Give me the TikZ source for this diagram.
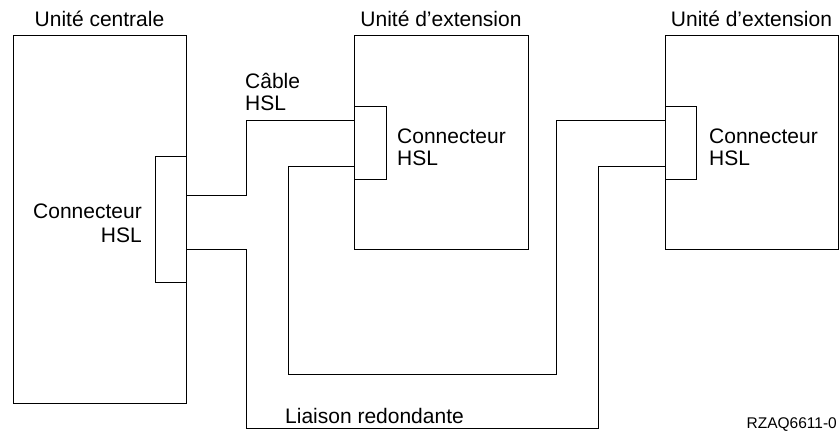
\documentclass[tikz,border=0pt]{standalone}
\usepackage{fontspec}
\setmainfont{Liberation Sans}
\usetikzlibrary{positioning}

\tikzset{
  unit/.style={draw, line width=1pt, inner sep=0pt},
  hsl/.style={draw, fill=white, line width=1pt, inner sep=0pt},
  wire/.style={line width=0.9pt},
  lbl/.style={inner sep=0pt, font=\fontsize{21}{22}\selectfont},
  code/.style={inner sep=0pt, font=\fontsize{15.5}{18}\selectfont}
}

\begin{document}
\begin{tikzpicture}[x=1pt,y=-1pt]
  \useasboundingbox (0,0) rectangle (839,432);

  % units
  \node[unit, minimum width=173pt, minimum height=368pt] (cu) at (99.5,219) {};
  \node[unit, minimum width=174pt, minimum height=214pt] (ext1) at (441,142) {};
  \node[unit, minimum width=173pt, minimum height=214pt] (ext2) at (751.5,142) {};

  % HSL connectors
  \node[hsl, minimum width=31pt, minimum height=126pt] (hslc) at (170.5,219) {};
  \node[hsl, minimum width=32pt, minimum height=73pt] (hsl1) at (370,143) {};
  \node[hsl, minimum width=31pt, minimum height=73pt] (hsl2) at (680.5,143) {};

  % unit titles
  \node[lbl, anchor=base] (tcu) at ([yshift=8pt]cu.north) {Unité centrale};
  \node[lbl, anchor=base] (text1) at ([yshift=8pt]ext1.north) {Unité d’extension};
  \node[lbl, anchor=base] (text2) at ([yshift=8pt]ext2.north) {Unité d’extension};

  % connector labels (base = last line)
  \node[lbl, align=right, anchor=base east, font=\fontsize{21}{24}\selectfont] (lc) at (142,242) {Connecteur\\HSL};
  \node[lbl, align=left, anchor=base west] (l1) at (397,165) {Connecteur\\HSL};
  \node[lbl, align=left, anchor=base west] (l2) at (709,165) {Connecteur\\HSL};

  % bends
  \coordinate (c1) at (246,120);
  \coordinate (b1) at (288,374);
  \coordinate (b2) at (556,120);
  \coordinate (r1) at (246,428);
  \coordinate (r2) at (598,166);

  % cables
  \draw[wire] ([yshift=24pt]hslc.east) -| (c1) -- ([yshift=23pt]hsl1.west);
  \draw[wire] ([yshift=-23pt]hsl1.west) -| (b1) -| (b2) -- ([yshift=23pt]hsl2.west);
  \draw[wire] ([yshift=-30pt]hslc.east) -| (r1) -| (r2) -- ([yshift=-23pt]hsl2.west);

  % cable labels
  \node[lbl, align=left, anchor=base west] (cable) at (245,110) {Câble\\HSL};
  \node[lbl, anchor=base west] (redund) at (285,423) {Liaison redondante};
  \node[code, anchor=base east] (ref) at (837,428) {RZAQ6611-0};
\end{tikzpicture}
\end{document}
